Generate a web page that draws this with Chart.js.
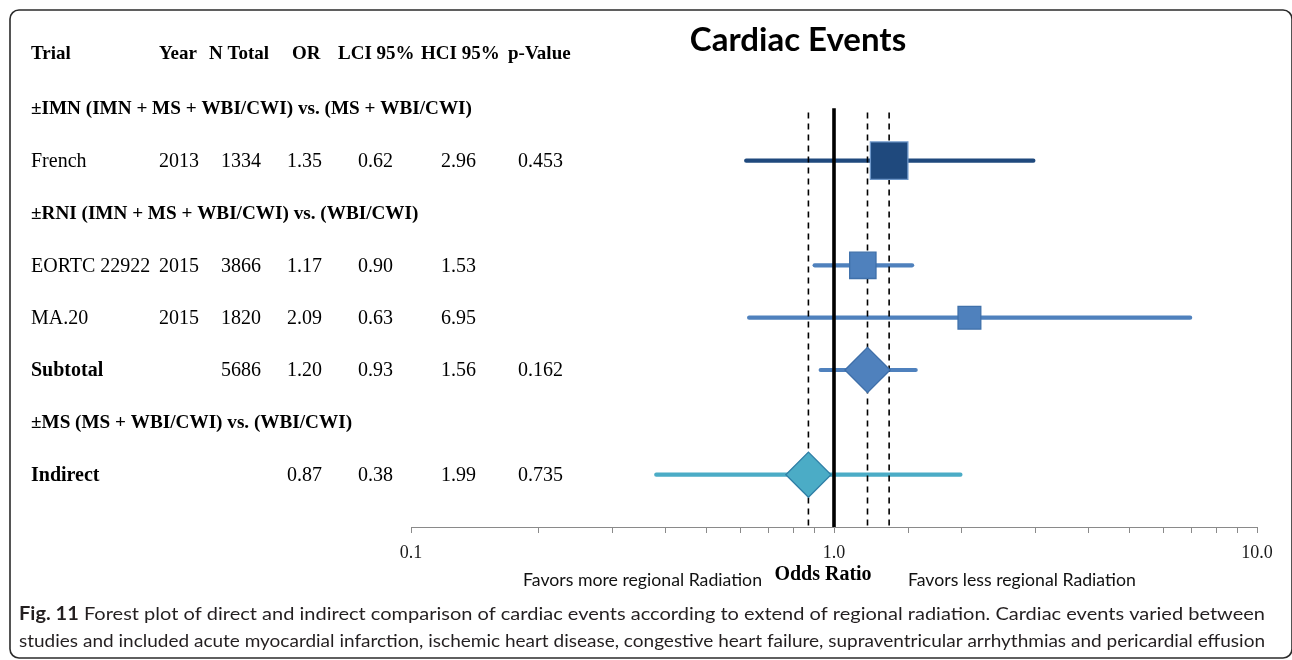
<!DOCTYPE html>
<html>
<head>
<meta charset="utf-8">
<script src="https://cdn.jsdelivr.net/npm/chart.js@4.4.1/dist/chart.umd.min.js"></script>
<style>
  html, body { margin: 0; padding: 0; background: #ffffff; }
  canvas { display: block; }
</style>
</head>
<body>
<canvas id="forest" width="1292" height="660"></canvas>
<script>
// ---- table / forest data ----
const columnHeaders = ['Trial', 'Year', 'N Total', 'OR', 'LCI 95%', 'HCI 95%', 'p-Value'];
const groupHeadings = [
  '±IMN (IMN + MS + WBI/CWI) vs. (MS + WBI/CWI)',
  '±RNI (IMN + MS + WBI/CWI) vs. (WBI/CWI)',
  '±MS (MS + WBI/CWI) vs. (WBI/CWI)'
];
const groupRows = [1, 3, 7];
const trials = ['French', 'EORTC 22922', 'MA.20', 'Subtotal', 'Indirect'];
const trialRows = [2, 4, 5, 6, 8];
const years = ['2013', '2015', '2015', '', ''];
const nTotals = ['1334', '3866', '1820', '5686', ''];
const oddsRatios = [1.35, 1.17, 2.09, 1.20, 0.87];
const lowerCI = [0.62, 0.90, 0.63, 0.93, 0.38];
const upperCI = [2.96, 1.53, 6.95, 1.56, 1.99];
const pValues = ['0.453', '', '', '0.162', '0.735'];
const pooledRows = [false, false, false, true, true];
const axisMin = 0.1;
const axisMax = 10;
const labelledTicks = [0.1, 1, 10];
const noEffect = 1;
// dashed guides at the French, Subtotal and Indirect estimates
const guideValues = [oddsRatios[0], oddsRatios[3], oddsRatios[4]];

// ---- styling ----
const rowColors = ['#1F497D', '#4F81BD', '#4F81BD', '#4F81BD', '#4BACC6'];
const markerBorders = ['#6E97C9', '#3F70AA', '#3F70AA', '#3C6DA8', '#2F7FA6'];
const markerStyles = ['rect', 'rect', 'rect', 'rectRot', 'rectRot'];
const markerRadii = [26.5, 18.6, 16.1, 22.6, 22.6];
const serif = '"Liberation Serif", "DejaVu Serif", serif';
const sans = 'Lato, "Open Sans", "Liberation Sans", sans-serif';
const valueColumnsX = [31, 159, 221, 287, 358, 441, 518];
const headerColumnsX = [31, 159, 209, 292, 338, 421, 508];

const datasets = [];

// confidence interval whiskers
trials.forEach((t, i) => {
  datasets.push({
    label: t + ' CI',
    data: [{ x: lowerCI[i], y: trialRows[i] }, { x: upperCI[i], y: trialRows[i] }],
    showLine: true,
    borderColor: rowColors[i],
    borderWidth: 4.2,
    borderCapStyle: 'round',
    pointRadius: 0,
    order: 3
  });
});

// line of no effect
datasets.push({
  label: 'no effect',
  data: [{ x: noEffect, y: 1 }, { x: noEffect, y: 9 }],
  showLine: true,
  borderColor: '#000000',
  borderWidth: 3.6,
  pointRadius: 0,
  order: 2
});

// dashed reference guides
guideValues.forEach(v => {
  datasets.push({
    label: 'guide ' + v,
    data: [{ x: v, y: 1.08 }, { x: v, y: 9 }],
    showLine: true,
    borderColor: '#000000',
    borderWidth: 1.6,
    borderDash: [6, 5],
    pointRadius: 0,
    order: 2
  });
});

// point estimates
datasets.push({
  label: 'OR',
  data: trials.map((t, i) => ({ x: oddsRatios[i], y: trialRows[i] })),
  showLine: false,
  pointStyle: markerStyles,
  pointRadius: markerRadii,
  backgroundColor: rowColors,
  borderColor: markerBorders,
  borderWidth: 1.3,
  order: 1
});

function isLabelled(v) {
  return labelledTicks.some(t => Math.abs(Math.log10(v) - Math.log10(t)) < 1e-6);
}

const decorations = {
  id: 'decorations',
  afterDraw(chart) {
    const ctx = chart.ctx;
    const y = chart.scales.y;
    ctx.save();

    // rounded outer frame
    ctx.strokeStyle = '#2b2b2b';
    ctx.lineWidth = 1.6;
    ctx.beginPath();
    ctx.roundRect(10, 10, 1282, 648, 9);
    ctx.stroke();

    // chart title
    ctx.fillStyle = '#000000';
    ctx.textAlign = 'center';
    ctx.textBaseline = 'middle';
    ctx.font = 'bold 33px ' + sans;
    ctx.fillText('Cardiac Events', 798, 40);

    // axis title
    ctx.font = 'bold 20px ' + serif;
    ctx.fillText('Odds Ratio', 823, 575);

    // table
    ctx.textAlign = 'left';
    ctx.font = 'bold 19px ' + serif;
    columnHeaders.forEach((h, c) => ctx.fillText(h, headerColumnsX[c], 54));
    ctx.font = 'bold 19.2px ' + serif;
    groupHeadings.forEach((g, k) => ctx.fillText(g, valueColumnsX[0], y.getPixelForValue(groupRows[k]) + 1));
    trials.forEach((t, i) => {
      const ry = y.getPixelForValue(trialRows[i]) + 1;
      ctx.font = (pooledRows[i] ? 'bold ' : '') + '20px ' + serif;
      ctx.fillText(t, valueColumnsX[0], ry);
      ctx.font = '20px ' + serif;
      const cells = [years[i], nTotals[i], oddsRatios[i].toFixed(2), lowerCI[i].toFixed(2), upperCI[i].toFixed(2), pValues[i]];
      cells.forEach((cell, c) => { if (cell) ctx.fillText(cell, valueColumnsX[c + 1], ry); });
    });

    // direction captions under the axis
    ctx.font = '17.7px ' + sans;
    ctx.fillStyle = '#111111';
    ctx.textAlign = 'right';
    ctx.fillText('Favors more regional Radiation', 762, 580);
    ctx.textAlign = 'left';
    ctx.fillText('Favors less regional Radiation', 908, 580);

    // figure caption, set condensed to the column width
    const capLeft = 19, capWidth = 1246;
    const fig = 'Fig. 11';
    const line1 = ' Forest plot of direct and indirect comparison of cardiac events according to extend of regional radiation. Cardiac events varied between';
    const line2 = 'studies and included acute myocardial infarction, ischemic heart disease, congestive heart failure, supraventricular arrhythmias and pericardial effusion';
    ctx.fillStyle = '#231f20';
    ctx.textBaseline = 'alphabetic';
    ctx.font = 'bold 18px ' + sans;
    const wFig = ctx.measureText(fig).width;
    ctx.font = '18px ' + sans;
    const w1 = ctx.measureText(line1).width;
    const w2 = ctx.measureText(line2).width;
    const s1 = capWidth / (wFig + w1);
    ctx.save();
    ctx.translate(capLeft, 620);
    ctx.scale(s1, 1);
    ctx.font = 'bold 18px ' + sans;
    ctx.fillText(fig, 0, 0);
    ctx.font = '18px ' + sans;
    ctx.fillText(line1, wFig, 0);
    ctx.restore();
    ctx.save();
    ctx.translate(capLeft, 647);
    ctx.scale(capWidth / w2, 1);
    ctx.fillText(line2, 0, 0);
    ctx.restore();

    ctx.restore();
  }
};

new Chart(document.getElementById('forest'), {
  type: 'scatter',
  data: { datasets },
  options: {
    responsive: false,
    animation: false,
    devicePixelRatio: 1,
    layout: { padding: { left: 411, right: 35, top: 56, bottom: 0 } },
    plugins: { legend: { display: false }, tooltip: { enabled: false }, title: { display: false } },
    scales: {
      x: {
        type: 'logarithmic',
        position: 'bottom',
        min: axisMin,
        max: axisMax,
        afterFit: s => { s.height = 660 - 527; },
        border: { display: true, color: '#8a8a8a', width: 1 },
        grid: { drawOnChartArea: false, drawTicks: true, tickLength: 6, color: '#8a8a8a', lineWidth: 1 },
        ticks: {
          autoSkip: false,
          maxRotation: 0,
          padding: 9,
          color: '#1a1a1a',
          font: { family: serif, size: 18 },
          callback: v => isLabelled(v) ? Number(v).toFixed(1) : ''
        },
        title: { display: false }
      },
      y: {
        type: 'linear',
        reverse: true,
        min: 0,
        max: 9,
        display: false
      }
    }
  },
  plugins: [decorations]
});
</script>
</body>
</html>
